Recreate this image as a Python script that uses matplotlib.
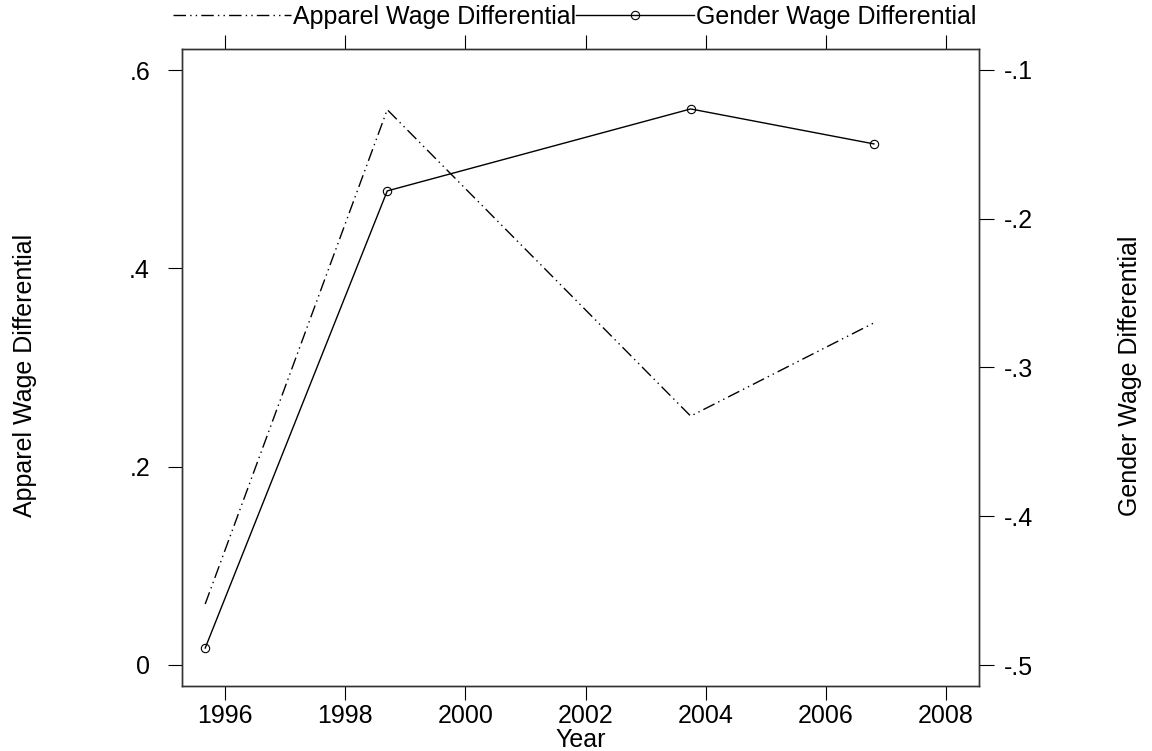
import matplotlib
matplotlib.use("Agg")
import matplotlib.pyplot as plt

plt.rcParams['font.family'] = ['Liberation Sans', 'DejaVu Sans']

years = [1995.67, 1998.7, 2003.75, 2006.8]
apparel = [0.0615, 0.560, 0.251, 0.345]
gender = [-0.4886, -0.1813, -0.1262, -0.1497]

x_ticks = [1996, 1998, 2000, 2002, 2004, 2006, 2008]
left_ticks = [0, 0.2, 0.4, 0.6]
left_labels = ["0", ".2", ".4", ".6"]
right_ticks = [-0.5, -0.4, -0.3, -0.2, -0.1]
right_labels = ["-.5", "-.4", "-.3", "-.2", "-.1"]

FS = 18
fig = plt.figure(figsize=(11.52, 7.51), dpi=100)
ax = fig.add_axes([182/1152, 1-686/751, (979-182)/1152, (686-49)/751])
ax2 = ax.twinx()

dash = (9, 3, 1, 3, 1, 3)
l1, = ax.plot(years, apparel, color='black', lw=1, linestyle=(0, dash))
l2, = ax2.plot(years, gender, color='black', lw=1, marker='o', markersize=6,
               markerfacecolor='none', markeredgewidth=0.8)

ax.set_xlim(1995.284, 2008.549)
ax.set_ylim(-0.0212, 0.6212)
ax2.set_ylim(-0.5141, -0.0859)

ax.set_xticks(x_ticks)
ax.set_xticklabels([str(t) for t in x_ticks])
ax.set_yticks(left_ticks)
ax.set_yticklabels(left_labels)
ax2.set_yticks(right_ticks)
ax2.set_yticklabels(right_labels)

ax.tick_params(axis='x', which='both', direction='out', length=10, width=0.8,
               labelsize=FS, pad=3, top=True, labeltop=False)
ax.tick_params(axis='y', direction='out', length=10, width=0.8, labelsize=FS, pad=13)
ax2.tick_params(axis='y', direction='out', length=11, width=0.8, labelsize=FS, pad=7)

for a in (ax, ax2):
    for s in a.spines.values():
        s.set_linewidth(1.0)
        s.set_color('#333333')

ax.set_xlabel("Year", fontsize=FS)
ax.xaxis.set_label_coords(0.5006, -0.066)
ax.set_ylabel("Apparel Wage Differential", fontsize=FS)
ax.yaxis.set_label_coords(-0.182, 0.487)
ax2.set_ylabel("Gender Wage Differential", fontsize=FS, rotation=90)
ax2.yaxis.set_label_coords(1.1744, 0.487)

fig.legend([l1, l2], ["Apparel Wage Differential", "Gender Wage Differential"],
           loc='center', bbox_to_anchor=(575/1152, 1-17/751), ncol=2, frameon=False,
           fontsize=FS, handlelength=4.7, handletextpad=0.1, columnspacing=0.0,
           borderaxespad=0, borderpad=0)

fig.savefig("out.png", dpi=100)
